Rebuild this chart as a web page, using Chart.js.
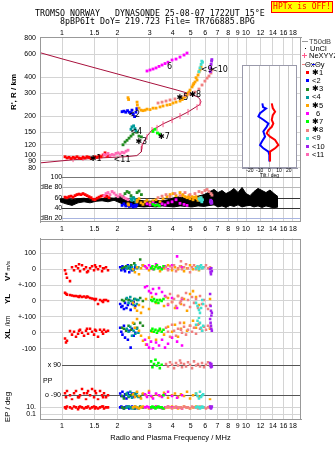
<!DOCTYPE html>
<html><head><meta charset="utf-8">
<script src="https://cdn.jsdelivr.net/npm/chart.js@4.4.1/dist/chart.umd.min.js"></script>
<style>
html,body{margin:0;padding:0;background:#fff;}
#wrap{position:relative;width:335px;height:451px;overflow:hidden;font-family:"Liberation Sans",Arial,sans-serif;}
canvas{position:absolute;}
.t{position:absolute;white-space:pre;line-height:1;}
.rot{position:absolute;white-space:nowrap;transform:translate(-50%,-50%) rotate(-90deg);line-height:1;font-weight:bold;font-size:8px;}
</style></head><body>
<div id="wrap">
<canvas id="cA" width="335" height="236" style="left:0;top:0"></canvas>
<canvas id="cT" width="66" height="122" style="left:236px;top:60px"></canvas>
<canvas id="cC" width="335" height="221" style="left:0;top:230px"></canvas>
<div class="t" style="left:35px;top:8px;font:8.3px 'DejaVu Sans Mono'">TROMSO NORWAY   DYNASONDE 25-08-07 1722UT 15°E</div>
<div class="t" style="left:60px;top:16px;font:8.3px 'DejaVu Sans Mono'">8pBP6It DoY= 219.723 File= TR766885.BPG</div>
<div style="position:absolute;left:271px;top:1px;width:60px;height:10px;background:#ff0;border:1px solid #f00;color:#f00;font:8px 'DejaVu Sans Mono';line-height:10px;text-align:center">HPTx is OFF!</div>
<div class="rot" style="left:13.5px;top:91.5px">R', R / km</div>
<div class="rot" style="left:8px;top:271px">V*<span style="font-size:6px;font-weight:normal"> m/s</span></div>
<div class="rot" style="left:8px;top:298.5px">YL</div>
<div class="rot" style="left:8px;top:321px;font-size:6.5px;font-weight:normal">/km</div>
<div class="rot" style="left:8px;top:334px">XL</div>
<div class="rot" style="left:8px;top:407px;font-weight:normal">EP / deg</div>
<div class="t" style="left:43px;top:376.5px;font-size:7px">PP</div>
<div id="legend"></div>
</div>
<script>
// ---------------- data ----------------
const freqTicks = [1,1.5,2,3,4,5,6,7,8,9,10,12,14,16,18];
const rangeTicks = [80,90,100,120,150,200,300,400,600,800];
const dbTicks = [20,40,60,80,100];
const dbTickLabels = ['dBn 20','40','60','dBe 80','100'];
const vTicks = [-100,0,100];      const vTickLabels = ['+-100','0','100'];
const ylTicks = [-100,0,100];     const ylTickLabels = ['+-100','0',''];
const xlTicks = [-100,0,100];     const xlTickLabels = ['-100','0',''];
const ppTicks = [-90,0,90];       const ppTickLabels = ['o -90','','x 90'];
const epTicks = [0.1,10];         const epTickLabels = ['0.1','10.'];
const tiltTicks = [-20,-10,0,10,20];

const seriesNames = ['✱1','<2','✱3','<4','✱5','6','✱7','✱8','<9','<10','<11'];
const seriesColors = ['#ff0000','#0000ff','#228b22','#009b9b','#ffa500','#ff00ff','#00ff00','#f08080','#40e0d0','#a020f0','#ff69b4'];

// ionogram echoes: [freq MHz, range km, amplitude dB]
const iono1 = [[1.038,97,61],[1.064,95,60],[1.092,96,62],[1.119,94,63],[1.148,96,61],[1.177,95,64],[1.206,97,66],[1.237,95,67],[1.268,94,66],[1.300,96,68],[1.334,95,66],[1.367,97,64],[1.402,96,62],[1.438,94,60],[1.474,95,57],[1.511,97,56],[1.550,96,59],[1.589,98,61],[1.629,97,63],[1.671,100,64],[1.713,104,62],[1.756,98,63],[1.801,99,60]];
const iono2 = [[2.12,216,45],[2.17,218,48],[2.22,214,44],[2.27,220,46],[2.32,214,43],[2.37,212,47],[2.40,222,44],[2.44,206,42],[2.48,198,45],[2.52,214,43],[2.55,228,46]];
const iono3 = [[2.145,120,62],[2.20,126,68],[2.256,130,72],[2.313,135,70],[2.371,140,64],[2.43,145,60],[2.557,150,70],[2.62,140,73],[2.70,138,66]];
const iono4 = [[2.37,158,58],[2.40,165,55],[2.45,168,60],[2.49,160,57],[2.52,154,52]];
const iono5 = [[2.284,277,48],[2.30,268,46],[2.557,256,52],[2.566,243,55],[2.621,230,58],[2.687,222,50],[2.754,220,47],[2.825,222,52],[2.897,226,55],[3.008,224,50],[3.123,230,54],[3.243,230,56],[3.409,235,52],[3.54,239,58],[3.720,243,62],[3.864,245,66],[4.011,252,68],[4.165,256,64],[4.378,261,70],[4.5,268,64],[4.545,275,66],[4.66,280,62],[4.779,290,60],[4.85,300,61],[4.90,306,64],[4.962,317,58],[5.088,335,62],[5.152,347,56],[5.2,356,60],[5.28,366,60],[5.35,395,62],[5.417,379,58],[5.485,414,55],[5.55,437,57],[5.623,453,60],[5.695,477,58]];
const iono6 = [[2.897,445,48],[3.008,453,46],[3.123,461,50],[3.243,470,47],[3.367,483,45],[3.496,495,48],[3.629,508,46],[3.768,520,50],[3.962,541,52],[4.165,550,56],[4.378,570,49],[4.603,591,47],[4.779,612,45]];
const iono7 = [[3.12,152,47],[3.2,158,45],[3.3,148,46],[3.38,145,44]];
const iono8 = [[3.325,252,60],[3.496,256,63],[3.675,261,66],[3.864,266,62],[4.11,271,68],[4.378,280,64],[4.66,288,70],[4.962,295,66],[5.28,306,68],[5.55,323,72],[5.766,347,70],[5.98,372,74],[6.14,392,76],[6.29,407,72],[6.45,429,68],[6.53,453,65]];
const iono9 = [[5.55,440,58],[5.62,470,55],[5.70,500,60],[5.75,530,52],[5.80,520,56]];
const iono10 = [[6.40,440,52],[6.43,470,55],[6.46,500,49],[6.50,530,53],[6.52,545,50]];
const iono11 = [[1.691,101,64],[1.734,100,68],[1.778,103,70],[1.823,99,66],[1.870,101,72],[1.917,100,69],[1.965,103,65],[2.015,104,62],[2.067,102,66],[2.119,105,63],[2.173,104,60],[2.228,107,58],[2.284,109,56]];

// echo parameters: [freq MHz, V* m/s, YL km, XL km, PP deg, EP deg]
const par1 = [[1.038,-6,52,-37,-78,10],[1.051,-29,45,-62,-102,5],[1.064,-54,40,-50,-65,18],[1.105,-75,38,10,-90,10],[1.133,12,35,-12,-115,5],[1.162,-6,31,6,-78,18],[1.191,19,31,-25,-65,10],[1.222,6,28,-6,-102,3],[1.237,31,25,12,-102,10],[1.253,-12,31,19,-90,18],[1.284,25,25,0,-53,10],[1.317,0,28,-19,-78,5],[1.350,12,22,12,-115,10],[1.367,-19,28,25,-78,10],[1.385,-12,25,-6,-65,18],[1.420,6,19,25,-90,5],[1.456,19,16,6,-53,10],[1.493,-6,12,-12,-102,18],[1.511,25,6,19,-65,5],[1.530,12,12,12,-78,10],[1.569,0,-19,-25,-115,5],[1.609,19,6,19,-65,10],[1.650,-12,0,6,-90,18],[1.671,6,-6,-6,-102,18],[1.691,6,6,19,-78,5],[1.734,12,6,6,-102,10],[1.778,-6,0,12,-90,10]];
const par2 = [[2.07,12,-19,31,-80,10],[2.10,-6,-38,6,-95,18],[2.13,19,-31,-12,-70,10],[2.17,0,-50,44,-100,5],[2.20,-12,-12,-31,-85,10],[2.24,6,-44,19,-110,18],[2.28,25,-25,-44,-75,10],[2.32,-19,6,12,-90,5],[2.36,12,-56,-94,-95,10],[2.40,-6,-19,25,-80,18],[2.45,0,-6,-19,-100,10],[2.50,12,-31,0,-85,5]];
const par3 = [[2.12,6,6,31,-95,10],[2.17,12,0,25,-110,5],[2.23,19,12,12,-85,10],[2.30,6,6,44,-100,18],[2.38,25,0,19,-90,10],[2.47,37,12,56,-80,5],[2.56,12,6,31,-95,10],[2.66,62,19,62,-100,18],[2.75,25,0,44,-85,10]];
const par4 = [[2.25,6,19,25,-80,10],[2.30,19,-12,6,-95,18],[2.35,0,25,37,-70,10],[2.40,12,0,-19,-105,5],[2.45,-6,-25,12,-85,10],[2.50,25,12,-6,-90,18],[2.55,6,-19,25,-75,10],[2.60,12,6,0,-100,5]];
const par5 = [[2.43,0,-12,62,-85,10],[2.49,-19,-44,31,-100,18],[2.557,12,-62,87,-70,10],[2.62,-31,-25,12,-95,5],[2.687,6,-75,-19,-110,10],[2.754,25,-38,-50,-80,18],[2.861,12,12,-75,-90,10],[2.97,-6,-50,-31,-65,5],[3.084,6,25,6,-100,10],[3.243,19,-12,-44,-85,18],[3.409,-12,6,19,-95,10],[3.584,6,-31,-12,-75,5],[3.768,25,19,37,-105,10],[3.962,-6,-6,6,-90,18],[4.11,12,-44,50,-80,10],[4.27,0,31,-25,-100,5],[4.43,19,-19,25,-85,10],[4.603,-12,12,62,-95,18],[4.78,6,-62,12,-70,10],[4.962,25,44,44,-110,5],[5.15,0,62,75,-90,10],[5.35,12,25,31,-80,18],[5.55,-6,-25,56,-100,10],[6.373,6,12,25,-115,10]];
const par6 = [[2.825,19,87,-44,-85,10],[2.897,6,94,-75,-100,18],[2.97,25,62,-94,-75,10],[3.046,12,50,-56,-95,5],[3.123,0,75,-100,-110,10],[3.243,31,44,-62,-80,18],[3.367,12,81,-81,-90,10],[3.496,6,56,-44,-100,5],[3.629,19,31,-94,-85,10],[3.768,0,-25,-69,-70,18],[3.962,25,19,-31,-95,10],[4.22,81,-44,-56,-105,10],[4.489,12,12,-81,-90,5]];
const par7 = [[3.05,6,6,12,110,10],[3.10,19,0,25,75,18],[3.16,0,12,6,95,10],[3.22,12,-6,19,120,5],[3.28,25,6,0,85,10],[3.34,6,-12,12,100,18],[3.40,12,6,25,70,10],[3.48,0,0,6,90,10],[3.56,19,12,19,-90,5]];
const par8 = [[3.675,12,25,31,95,10],[3.768,-6,-19,6,80,18],[3.864,19,44,-25,105,10],[3.962,6,-6,50,90,5],[4.062,25,12,12,70,10],[4.165,-12,-31,-19,100,18],[4.27,6,31,25,85,10],[4.378,19,-12,62,115,10],[4.43,50,0,19,100,10],[4.489,0,19,0,75,5],[4.603,12,-25,37,95,18],[4.72,31,50,-12,80,10],[4.839,6,6,19,105,10],[4.962,-19,-38,44,90,5],[5.088,12,25,6,70,18],[5.216,25,-12,31,110,10],[5.349,0,12,-6,85,10],[5.485,12,-44,50,95,5],[5.623,19,31,25,80,18],[5.766,6,-19,12,100,10],[5.912,12,6,37,75,10],[6.061,25,-31,19,90,5],[6.215,6,-50,44,105,10],[6.373,12,-25,31,85,18]];
const par9 = [[5.35,6,-12,50,-80,10],[5.45,19,-31,75,-95,18],[5.55,0,-56,94,-110,10],[5.62,12,-75,62,-70,5],[5.70,25,-44,31,-100,10],[5.78,6,6,12,-90,18],[5.85,12,-19,44,-85,10]];
const par10 = [[6.38,0,44,87,100,18],[6.42,-19,-31,62,85,10],[6.45,-31,-62,44,75,5],[6.48,6,-94,25,95,10],[6.52,-12,-75,12,80,18]];
const par11 = [];

// noise floor envelope in the amplitude panel
const noiseF  = [0.975,1.051,1.133,1.222,1.317,1.420,1.530,1.650,1.778,1.917,2.067,2.228,2.402,2.588,2.791,3.008,3.243,3.496,3.768,4.062,4.378,4.720,5.088,5.485,5.912,6.373,6.701,7.043,7.405,7.785,8.185,8.606,9.048,9.512,10.0,10.51,11.05,11.62,12.22,12.84,13.50,14.20,14.93];
const noiseHi = [58,57,56,58,59,57,56,58,60,59,62,57,52,55,54,53,55,54,56,60,62,58,60,63,66,72,76,70,74,68,72,78,70,80,68,64,72,78,74,70,75,68,62];
const noiseLo = [52,48,45,50,52,50,53,54,52,55,50,44,42,43,42,43,42,44,43,42,44,43,42,44,43,45,46,42,44,41,45,43,46,42,44,45,42,44,41,44,42,40,42];

// electron density profile (plasma frequency vs height)
const profF = [0.76,1.0,1.61,2.65,4.22,4.9,5.42,5.60,5.69,5.62,5.42,4.84,4.38,3.96,3.54,3.28,3.08,2.90,2.78,2.72,2.70,2.55,2.2,1.61,1.15,0.76];
const profR = [616,552,459,379,317,298,282,272,258,246,238,215,200,187,174,163,156,140,126,117,106,99,97,95,92,87];
const neF = [1.148,1.30,1.609,2.721,2.897,3.084,3.284,3.54,3.962,4.378,4.839,5.417,5.623];
const neR = [93,94.8,96.5,117,138,156,162,173,186,200,215,234,252];

// trace labels
const labelText = ['✱1','<11','<2','<4','✱3','✱5','6','✱7','✱8','<9','<10'];
const labelF = [1.47,1.98,2.38,2.44,2.6,4.35,3.86,3.45,5.1,5.9,6.7];
const labelR = [93,91,203,150,127,275,477,138,290,453,453];

// tilt inset
const tiltXDeg = [2.5,3.5,5.9,3.5,2.5,4.1,2.5,-1,-2.7,0.7,5.9,9.3,5.9,0.7,0.7,0.7];
const tiltXH   = [218,208,200,193,183,175,168,161,154,147,140,129,122,115,108,94];
const tiltYDeg = [-7.2,-6.5,-3.4,-9.6,-11.3,-6.2,-1,-2.7,-6.2,-4.4,-7.8,-9.6,-6.2,-1,0,0];
const tiltYH   = [218,210,207,197,190,183,175,168,158,147,136,129,122,115,108,94];

// ---------------- build ----------------
const ionoSets = [iono1,iono2,iono3,iono4,iono5,iono6,iono7,iono8,iono9,iono10,iono11];
const parSets = [par1,par2,par3,par4,par5,par6,par7,par8,par9,par10,par11];
const fMin = 0.759, fMax = 19.9;
const FONT = 'Liberation Sans';
const tickFont = {family: FONT, size: 7, lineHeight: 1};
const GRID = '#d4d4d4';
const setTicks = vals => s => { s.ticks = vals.map(v => ({value: v})); };
const fixW = w => s => { s.width = w; };
const fixH = h => s => { s.height = h; };

function framePlugin(color) {
  return {id: 'frame', afterDatasetsDraw(chart) {
    const a = chart.chartArea, ctx = chart.ctx;
    ctx.save(); ctx.strokeStyle = color; ctx.lineWidth = 1;
    ctx.strokeRect(Math.round(a.left) + 0.5, Math.round(a.top) + 0.5, Math.round(a.width) - 1, Math.round(a.height) - 1);
    ctx.restore();
  }};
}
function refLinesPlugin(lines) {
  return {id: 'refLines', beforeDatasetsDraw(chart) {
    const ctx = chart.ctx, a = chart.chartArea, xs = chart.scales.x;
    ctx.save(); ctx.lineWidth = 1;
    lines.forEach(l => {
      const y = Math.round(chart.scales[l.axis].getPixelForValue(l.value)) + 0.5;
      ctx.strokeStyle = l.color; ctx.beginPath();
      ctx.moveTo(xs.getPixelForValue(l.from), y); ctx.lineTo(a.right, y); ctx.stroke();
    });
    ctx.restore();
  }};
}
const traceLabelPlugin = {id: 'traceLabels', afterDatasetsDraw(chart) {
  const ctx = chart.ctx, xs = chart.scales.x, ys = chart.scales.yR;
  ctx.save(); ctx.font = '8px "DejaVu Sans"'; ctx.fillStyle = '#000'; ctx.textBaseline = 'middle';
  labelText.forEach((t, i) => ctx.fillText(t, xs.getPixelForValue(labelF[i]) - 3, ys.getPixelForValue(labelR[i])));
  ctx.restore();
}};

const freqAxis = (pos, h, pad) => ({
  type: 'logarithmic', position: pos, min: fMin, max: fMax,
  afterBuildTicks: setTicks(freqTicks), afterFit: fixH(h),
  grid: {color: GRID, drawTicks: false}, border: {color: '#999'},
  ticks: {font: tickFont, color: '#000', padding: pad, autoSkip: false, maxRotation: 0, callback: v => String(v)}
});
const pointDs = (data, axis, color, r, order) => ({
  data, yAxisID: axis, xAxisID: 'x', showLine: false, pointStyle: 'rect', pointRadius: r,
  pointBackgroundColor: color, pointBorderWidth: 0, pointHoverRadius: r, order
});

// ----- chart A: ionogram + amplitude -----
const dsA = [];
dsA.push({data: noiseF.map((f,i)=>({x:f,y:noiseLo[i]})), yAxisID:'yDB', xAxisID:'x', borderColor:'#000', borderWidth:1, pointRadius:0, fill:false, order:1000});
dsA.push({data: noiseF.map((f,i)=>({x:f,y:noiseHi[i]})), yAxisID:'yDB', xAxisID:'x', borderColor:'#000', borderWidth:1, pointRadius:0, fill:'-1', backgroundColor:'#000', order:999});
dsA.push({data: profF.map((f,i)=>({x:f,y:profR[i]})), yAxisID:'yR', xAxisID:'x', borderColor:'#a8103c', borderWidth:1, pointRadius:0, fill:false, order:500});
dsA.push({data: neF.map((f,i)=>({x:f,y:neR[i]})), yAxisID:'yR', xAxisID:'x', showLine:false, pointStyle:'line', pointRotation:90, pointRadius:3, pointBorderColor:'#ff5a8c', pointBorderWidth:1, order:400});
ionoSets.forEach((rows, i) => {
  dsA.push(pointDs(rows.map(r=>({x:r[0],y:r[1]})), 'yR', seriesColors[i], 2, 100 - i));
  dsA.push(pointDs(rows.map(r=>({x:r[0],y:r[2]})), 'yDB', seriesColors[i], 2, 100 - i));
});

new Chart(document.getElementById('cA'), {
  type: 'line',
  data: {datasets: dsA},
  options: {
    responsive: false, animation: false, devicePixelRatio: 1,
    layout: {autoPadding: false, padding: {left: 0, right: 34, top: 0, bottom: 0}},
    plugins: {legend: {display: false}, tooltip: {enabled: false}},
    scales: {
      x: freqAxis('top', 37, 0),
      x2: Object.assign(freqAxis('bottom', 14, 4), {grid: {display: false, drawTicks: false}, border: {display: false}}),
      yDB: {type: 'linear', position: 'left', stack: 'top', stackWeight: 50, min: 12.6, max: 110.1,
        afterBuildTicks: setTicks(dbTicks), afterFit: fixW(40),
        grid: {display: false, drawTicks: false}, border: {color: '#999'},
        ticks: {mirror: true, crossAlign: 'far', padding: 0, font: tickFont, color: '#000', autoSkip: false, callback: (v, i) => dbTickLabels[i]}},
      yR: {type: 'logarithmic', position: 'left', stack: 'top', stackWeight: 135, min: 74, max: 814,
        afterBuildTicks: setTicks(rangeTicks), afterFit: fixW(40),
        grid: {color: GRID, drawTicks: false}, border: {color: '#999'},
        ticks: {padding: 4, font: tickFont, color: '#000', autoSkip: false, callback: v => String(v)}}
    }
  },
  plugins: [refLinesPlugin([
    {axis:'yDB', value:100, color:'#777', from:1},
    {axis:'yDB', value:80, color:'#b8b8b8', from:1},
    {axis:'yDB', value:60, color:'#333', from:1},
    {axis:'yDB', value:40, color:'#333', from:1},
    {axis:'yDB', value:20, color:'#a8b4e0', from:1}
  ]), framePlugin('#999'), traceLabelPlugin]
});

// ----- tilt inset -----
new Chart(document.getElementById('cT'), {
  type: 'line',
  data: {datasets: [
    {data: tiltXDeg.map((d,i)=>({x:d,y:tiltXH[i]})), borderColor:'#ff0000', borderWidth:2, pointRadius:0, fill:false},
    {data: tiltYDeg.map((d,i)=>({x:d,y:tiltYH[i]})), borderColor:'#0000ff', borderWidth:2, pointRadius:0, fill:false}
  ]},
  options: {
    responsive: false, animation: false, devicePixelRatio: 1,
    layout: {autoPadding: false, padding: {left: 6, right: 5, top: 5, bottom: 4}},
    plugins: {legend: {display: false}, tooltip: {enabled: false}},
    scales: {
      x: {type: 'linear', min: -28.2, max: 28.5, afterBuildTicks: setTicks(tiltTicks), afterFit: fixH(10),
        grid: {color: '#c8c8c8', drawTicks: false}, border: {color: '#99a'},
        ticks: {font: {family: FONT, size: 5, lineHeight: 1}, color: '#000', padding: 0, autoSkip: false, maxRotation: 0},
        title: {display: true, text: 'Tilt / deg', font: {family: FONT, size: 5, lineHeight: 1}, color: '#000', padding: 0}},
      y: {type: 'linear', display: false, min: 80, max: 300}
    }
  },
  plugins: [{id: 'bg', beforeDraw(chart) { const a = chart.chartArea; chart.ctx.save(); chart.ctx.fillStyle = '#fff'; chart.ctx.fillRect(a.left, a.top, a.width, a.height); chart.ctx.restore(); }}, framePlugin('#99a')]
});

// ----- chart C: echo parameters -----
const dsC = [];
const parAxes = ['yV','yYL','yXL','yPP','yEP'];
parSets.forEach((rows, i) => {
  parAxes.forEach((ax, c) => dsC.push(pointDs(rows.map(r=>({x:r[0],y:r[c+1]})), ax, seriesColors[i], 1.8, 100 - i)));
});
const bandAxis = (type, weight, min, max, ticks, labels, extra) => Object.assign({
  type, position: 'left', stack: 'low', stackWeight: weight, min, max,
  afterBuildTicks: setTicks(ticks), afterFit: fixW(40),
  grid: {color: GRID, drawTicks: false}, border: {color: '#999'},
  ticks: {padding: 4, font: tickFont, color: '#000', autoSkip: false, callback: (v, i) => labels[i]}
}, extra || {});

new Chart(document.getElementById('cC'), {
  type: 'line',
  data: {datasets: dsC},
  options: {
    responsive: false, animation: false, devicePixelRatio: 1,
    layout: {autoPadding: false, padding: {left: 0, right: 34, top: 7, bottom: 9}},
    plugins: {legend: {display: false}, tooltip: {enabled: false}},
    scales: {
      x: Object.assign(freqAxis('bottom', 23, 4), {title: {display: true, text: 'Radio and Plasma Frequency / MHz', color: '#000', font: {family: FONT, size: 7.5, lineHeight: 1.2}, padding: {top: 0, bottom: 0}}}),
      yEP: bandAxis('logarithmic', 19, 0.00454, 1219, epTicks, epTickLabels),
      yPP: bandAxis('linear', 44, -119.3, 138.7, ppTicks, ppTickLabels, {grid: {display: false, drawTicks: false},
        ticks: {mirror: true, crossAlign: 'far', padding: 5, font: tickFont, color: '#000', autoSkip: false, callback: (v, i) => ppTickLabels[i]}}),
      yXL: bandAxis('linear', 40, -150, 100, xlTicks, xlTickLabels),
      yYL: bandAxis('linear', 32, -100, 100, ylTicks, ylTickLabels),
      yV: bandAxis('linear', 47, -100, 193.75, vTicks, vTickLabels)
    }
  },
  plugins: [refLinesPlugin([
    {axis:'yPP', value:90, color:'#555', from:1},
    {axis:'yPP', value:-90, color:'#555', from:1}
  ]), framePlugin('#999')]
});

// ----- legend -----
const legend = document.getElementById('legend');
function addText(x, y, html, style) {
  const d = document.createElement('div');
  d.className = 't'; d.style.left = x + 'px'; d.style.top = y + 'px';
  d.style.fontSize = '7.5px'; if (style) d.style.cssText += style;
  d.innerHTML = html; legend.appendChild(d); return d;
}
function addBox(x, y, w, h, color) {
  const d = document.createElement('div');
  d.style.cssText = `position:absolute;left:${x}px;top:${y}px;width:${w}px;height:${h}px;background:${color}`;
  legend.appendChild(d);
}
addBox(302, 41, 6, 1, '#999'); addText(309, 38, 'T50dB', 'color:#444');
addBox(305, 47.5, 1, 1, '#000'); addText(310, 44.5, 'UnCl');
addBox(302, 54.5, 5, 1, '#ff5a8c'); addBox(304, 52.5, 1, 5, '#ff5a8c'); addText(309, 51.5, 'NeXYYZ');
addBox(302, 63.5, 3, 1, '#f08080'); addText(305, 60.5, 'Θx');
addBox(312, 63.5, 3, 1, '#0000ff'); addText(315, 60.5, 'Θy');
seriesNames.forEach((n, i) => {
  const y = 72.7 + i * 8.2;
  addBox(306, y - 1.5, 3, 3, seriesColors[i]);
  addText(n === '6' ? 316 : 312, y - 4, n);
});
</script>
</body></html>
